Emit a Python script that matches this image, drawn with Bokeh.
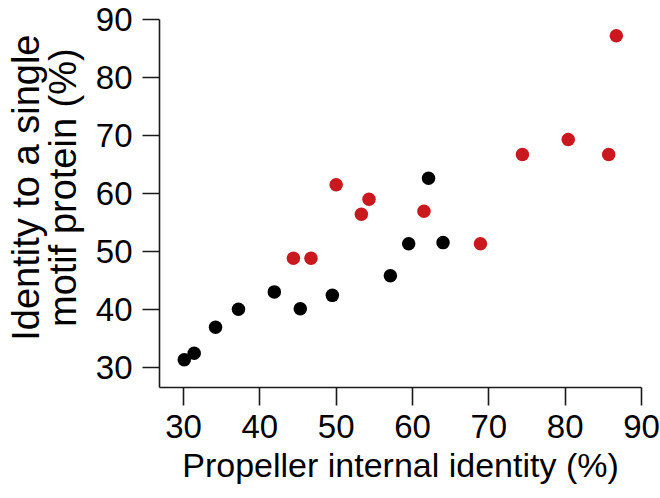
from bokeh.plotting import figure
from bokeh.models import Range1d, FixedTicker
from bokeh.embed import file_html
from bokeh.resources import INLINE

# Data
black_x = [30.1, 31.4, 34.2, 37.2, 41.9, 45.3, 49.5, 57.1, 59.5, 62.1, 64.0]
black_y = [31.3, 32.4, 36.9, 40.0, 43.0, 40.1, 42.4, 45.8, 51.3, 62.6, 51.5]
red_x = [44.4, 46.7, 50.0, 53.3, 54.3, 61.5, 68.9, 74.4, 80.4, 85.7, 86.7]
red_y = [48.8, 48.8, 61.5, 56.4, 59.0, 56.9, 51.3, 66.7, 69.3, 66.7, 87.2]
ticks = [30, 40, 50, 60, 70, 80, 90]
x_title = "Propeller internal identity (%)"
y_title_lines = ["Identity to a single", "motif protein (%)"]

FONT = "Liberation Sans"
PAD = "\u00a0" * 3   # nudges the centred title slightly upwards

p = figure(width=660, height=498, output_backend="svg", toolbar_location=None,
           x_range=Range1d(26.856, 90), y_range=Range1d(26.50, 90),
           min_border_left=159, min_border_right=19, min_border_top=19,
           min_border_bottom=111)
p.outline_line_color = None
p.xgrid.visible = False
p.ygrid.visible = False
p.background_fill_color = "white"

p.scatter(black_x, black_y, size=13.5, color="black", line_color=None)
p.scatter(red_x, red_y, size=13.5, color="#C9181E", line_color=None)

for ax in (p.xaxis[0], p.yaxis[0]):
    ax.ticker = FixedTicker(ticks=ticks)
    ax.minor_tick_line_color = None
    ax.major_tick_in = 0
    ax.axis_line_width = 1.6
    ax.major_tick_line_width = 1.6
    ax.axis_line_color = "#1a1a1a"
    ax.major_tick_line_color = "#1a1a1a"
    ax.major_label_text_font = FONT
    ax.major_label_text_font_size = "33px"
    ax.major_label_text_color = "black"
    ax.axis_label_text_font = FONT
    ax.axis_label_text_font_style = "normal"
    ax.axis_label_text_color = "black"

p.xaxis.major_tick_out = 18
p.yaxis.major_tick_out = 17
p.xaxis.axis_label = x_title
p.xaxis.axis_label_text_font_size = "34px"
p.xaxis.major_label_standoff = 9
p.yaxis.major_label_standoff = 10
p.xaxis.axis_label_standoff = 5

p.yaxis.axis_label = "\n".join(PAD + t for t in y_title_lines)
p.yaxis.axis_label_text_font_size = "38px"
p.yaxis.axis_label_text_line_height = 0.87
p.yaxis.axis_label_standoff = 9

open("out.html", "w").write(file_html(p, INLINE))
